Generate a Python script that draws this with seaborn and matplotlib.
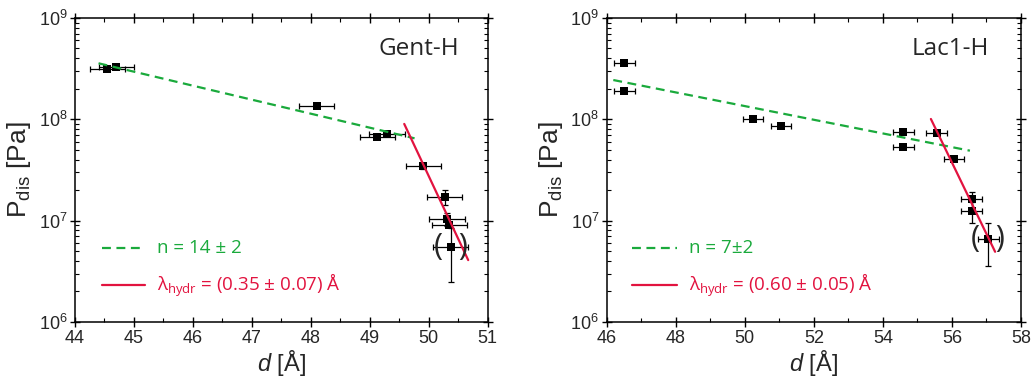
import numpy as np
import pandas as pd
import matplotlib
matplotlib.use("Agg")
import matplotlib.pyplot as plt
from matplotlib.ticker import LogLocator, MultipleLocator, NullFormatter
import seaborn as sns

# ---------------- data: Gent-H ----------------
gent_d = [44.55, 44.70, 48.10, 49.13, 49.29, 49.91, 50.27, 50.31, 50.35, 50.37]
gent_p = [3.12e8, 3.26e8, 1.36e8, 6.7e7, 7.1e7, 3.46e7, 1.72e7, 1.03e7, 9.1e6, 5.5e6]
gent_xerr = [0.3, 0.3, 0.3, 0.3, 0.3, 0.3, 0.3, 0.3, 0.3, 0.3]
gent_yerr = [0.0, 0.0, 0.0, 0.0, 0.0, 0.2e7, 0.28e7, 0.15e7, 0.0, 3.0e6]
gent_fit_n_d = [44.40, 49.76]
gent_fit_n_p = [3.57e8, 6.49e7]
gent_fit_l_d = [49.585, 50.67]
gent_fit_l_p = [9.0e7, 4.08e6]

# ---------------- data: Lac1-H ----------------
lac_d = [46.51, 46.51, 50.24, 51.05, 54.59, 54.59, 55.56, 56.06, 56.57, 56.57, 57.05]
lac_p = [3.57e8, 1.91e8, 1.0e8, 8.65e7, 7.55e7, 5.3e7, 7.28e7, 4.03e7, 1.62e7, 1.24e7, 6.58e6]
lac_xerr = [0.3] * 11
lac_yerr = [0, 0, 0, 0, 0, 0, 0, 0, 0.28e7, 0.30e7, 3.0e6]
lac_fit_n_d = [46.19, 56.52]
lac_fit_n_p = [2.44e8, 4.9e7]
lac_fit_l_d = [55.39, 57.25]
lac_fit_l_p = [1.007e8, 4.93e6]

GREEN = "#1aaa3c"
RED = "#e2133f"

sns.set_theme(style="ticks")
plt.rcParams["font.family"] = ["Liberation Sans", "DejaVu Sans"]
plt.rcParams["mathtext.fontset"] = "custom"
plt.rcParams["mathtext.rm"] = "Liberation Sans"
plt.rcParams["mathtext.it"] = "Liberation Sans:italic"
plt.rcParams["mathtext.default"] = "regular"

fig = plt.figure(figsize=(10.31, 3.81), dpi=100)
ax1 = fig.add_axes([0.0727, 0.1549, 0.4003, 0.798])
ax2 = fig.add_axes([0.5885, 0.1549, 0.4018, 0.798])


def draw(ax, d, p, xerr, yerr, nd, npv, ld, lpv, xlim, xmaj, xmin, title, ntxt, ltxt,
         paren_xy, title_xy, leg_x):
    df = pd.DataFrame({"d": d, "p": p})
    ax.errorbar(d, p, xerr=xerr, yerr=yerr, fmt="none", ecolor="black",
                elinewidth=0.9, capsize=2.5, capthick=0.9, zorder=2)
    sns.scatterplot(data=df, x="d", y="p", ax=ax, marker="s", color="black",
                    s=38, edgecolor="black", linewidth=0, zorder=3, legend=False)
    fn = pd.DataFrame({"d": nd, "p": npv})
    fl = pd.DataFrame({"d": ld, "p": lpv})
    sns.lineplot(data=fn, x="d", y="p", ax=ax, color=GREEN, lw=1.6,
                 linestyle=(0, (4, 2.5)), zorder=4)
    sns.lineplot(data=fl, x="d", y="p", ax=ax, color=RED, lw=1.6, zorder=4)
    ax.set_yscale("log")
    ax.set_xlim(*xlim)
    ax.set_ylim(1e6, 1e9)
    ax.xaxis.set_major_locator(MultipleLocator(xmaj))
    ax.xaxis.set_minor_locator(MultipleLocator(xmin))
    ax.yaxis.set_major_locator(LogLocator(base=10, numticks=10))
    ax.yaxis.set_minor_locator(LogLocator(base=10, subs=np.arange(2, 10), numticks=10))
    ax.yaxis.set_minor_formatter(NullFormatter())
    ax.tick_params(which="major", direction="inout", length=7, width=1.0,
                   top=True, right=True, labelsize=13, pad=2, color="black")
    ax.tick_params(which="minor", direction="in", length=3, width=0.8,
                   top=True, right=True, color="black")
    for s in ax.spines.values():
        s.set_linewidth(1.1)
        s.set_color("black")
    ax.set_xlabel(r"$\mathit{d}$ [Å]", fontsize=17, labelpad=1)
    ax.set_ylabel(r"P$_{\mathrm{dis}}$ [Pa]", fontsize=19, labelpad=4)
    ax.text(title_xy[0], title_xy[1], title, transform=ax.transAxes, fontsize=17.5,
            family=["Open Sans", "DejaVu Sans"], ha="center", va="center")
    ax.text(paren_xy[0], paren_xy[1], "(  )", fontsize=22, ha="center", va="center",
            family=["Open Sans", "DejaVu Sans"], zorder=5)
    # legend-like annotations
    x0, x1 = leg_x
    ax.plot([x0, x1], [0.243, 0.243], transform=ax.transAxes, color=GREEN, lw=1.6,
            linestyle=(0, (4, 2.5)))
    ax.plot([x0, x1], [0.121, 0.121], transform=ax.transAxes, color=RED, lw=1.6)
    ax.text(x1 + 0.028, 0.243, ntxt, transform=ax.transAxes, color=GREEN, fontsize=13.5,
            family=["Open Sans", "DejaVu Sans"], va="center")
    ax.text(x1 + 0.028, 0.121, ltxt, transform=ax.transAxes, color=RED, fontsize=13.5,
            family=["Open Sans", "DejaVu Sans"], va="center")


draw(ax1, gent_d, gent_p, gent_xerr, gent_yerr, gent_fit_n_d, gent_fit_n_p,
     gent_fit_l_d, gent_fit_l_p, (44, 51), 1, 0.5, "Gent-H",
     "n = 14 ± 2", r"λ$_{\mathregular{hydr}}$ = (0.35 ± 0.07) Å",
     (50.37, 5.5e6), (0.833, 0.897), (0.065, 0.17))
draw(ax2, lac_d, lac_p, lac_xerr, lac_yerr, lac_fit_n_d, lac_fit_n_p,
     lac_fit_l_d, lac_fit_l_p, (46, 58), 2, 1, "Lac1-H",
     "n = 7±2", r"λ$_{\mathregular{hydr}}$ = (0.60 ± 0.05) Å",
     (57.05, 6.58e6), (0.83, 0.897), (0.06, 0.17))

fig.savefig("out.png", dpi=100)
